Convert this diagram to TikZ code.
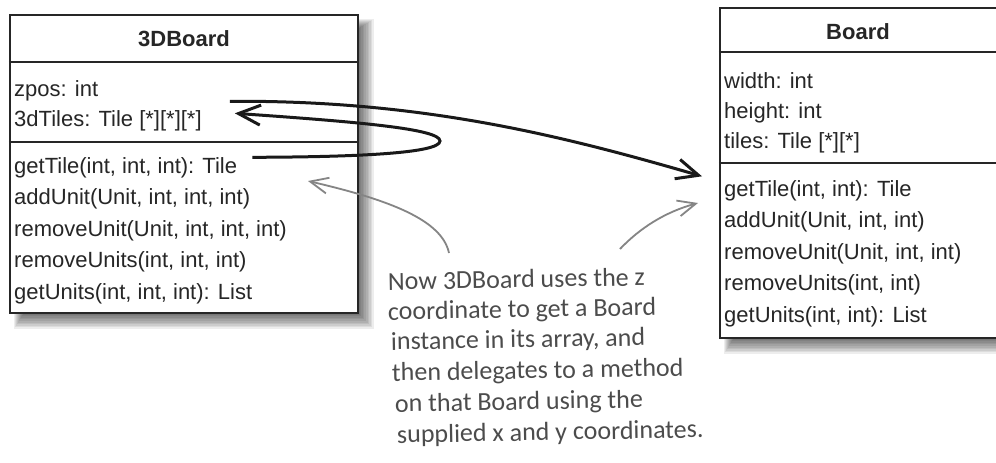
\documentclass[tikz,border=0pt]{standalone}
\usepackage{fontspec}
\setmainfont{Liberation Sans}
\newfontfamily\handfont{Carlito}
\usetikzlibrary{arrows.meta,calc}
\newcommand\boxshadow[4]{%
  \foreach \k in {1,...,10}{%
    \fill[black,opacity=0.07] ({#1+14-\k},{#2+14-\k}) rectangle ({#3+1.6*\k},{#4+1.6*\k});
  }}
\begin{document}
\begin{tikzpicture}[x=1pt,y=-1pt,
  umlbox/.style={draw=black!85, line width=2.5pt, fill=white, inner sep=0pt},
  boxline/.style={draw=black!85, line width=2.5pt},
  member/.style={anchor=base west, inner sep=0pt, font=\fontsize{22}{26}\selectfont, text=black!85},
  classtitle/.style={anchor=base, inner sep=0pt, font=\fontsize{22}{26}\selectfont\bfseries, text=black!85},
  link/.style={line width=3pt, draw=black!90, -{Straight Barb[length=22pt,width=20pt,line width=3pt]}},
  note/.style={line width=1.8pt, draw=black!48, -{Straight Barb[length=18pt,width=16pt,line width=1.8pt]}},
  hand/.style={anchor=base west, inner sep=0pt, rotate=1, font=\handfont\fontsize{26}{30}\selectfont, text=black!70},
]
\useasboundingbox (0,0) rectangle (996,463);
\fill[white] (0,0) rectangle (996,463);

% shadows
\boxshadow{10}{15}{358}{313}
\boxshadow{720}{8}{998}{338}

% 3DBoard class
\node[umlbox, minimum width=348pt, minimum height=298pt] (tdb) at (184,164) {};
\draw[boxline] (tdb.west |- 0,62) -- (tdb.east |- 0,62);
\draw[boxline] (tdb.west |- 0,142) -- (tdb.east |- 0,142);
\node[classtitle] (tdbt) at (184,46) {3DBoard};
\node[member] (a1) at (14,96) {zpos: int};
\node[member] (a2) at (14,126) {3dTiles: Tile [*][*][*]};
\node[member] (o1) at (14,173) {getTile(int, int, int): Tile};
\node[member] (o2) at (14,204.5) {addUnit(Unit, int, int, int)};
\node[member] (o3) at (14,236) {removeUnit(Unit, int, int, int)};
\node[member] (o4) at (14,267.5) {removeUnits(int, int, int)};
\node[member] (o5) at (14,299) {getUnits(int, int, int): List};

% Board class
\node[umlbox, minimum width=278pt, minimum height=330pt] (bd) at (859,173) {};
\draw[boxline] (bd.west |- 0,52) -- (bd.east |- 0,52);
\draw[boxline] (bd.west |- 0,163) -- (bd.east |- 0,163);
\node[classtitle] (bdt) at (858,39.5) {Board};
\node[member] (b1) at (724,88) {width: int};
\node[member] (b2) at (724,118) {height: int};
\node[member] (b3) at (724,148) {tiles: Tile [*][*]};
\node[member] (p1) at (724,196) {getTile(int, int): Tile};
\node[member] (p2) at (724,227.5) {addUnit(Unit, int, int)};
\node[member] (p3) at (724,259) {removeUnit(Unit, int, int)};
\node[member] (p4) at (724,290.5) {removeUnits(int, int)};
\node[member] (p5) at (724,322) {getUnits(int, int): List};

% connectors
\coordinate (s1) at ($(a2.east)+(28,-19)$);
\coordinate (t1) at ($(p1.west)+(-22,-14)$);
\draw[link] (s1) .. controls (420,100) and (560,135) .. (t1);

\coordinate (s2) at ($(o1.east)+(15,-10)$);
\coordinate (turn) at (440,141);
\coordinate (t2) at ($(a2.east)+(33,-7)$);
\draw[link] (s2) .. controls (360,157) and (440,153) .. (turn)
  .. controls (440,129) and (360,122) .. (t2);

% annotation
\node[hand] (h1) at (388,290) {Now 3DBoard uses the z};
\node[hand] (h2) at (388,320) {coordinate to get a Board};
\node[hand] (h3) at (391,350) {instance in its array, and};
\node[hand] (h4) at (392,381) {then delegates to a method};
\node[hand] (h5) at (395,412) {on that Board using the};
\node[hand] (h6) at (397,443) {supplied x and y coordinates.};

\coordinate (n1s) at (449,253);
\coordinate (n1t) at (308,181);
\draw[note] (n1s) .. controls (442,220) and (390,200) .. (n1t);
\coordinate (n2s) at (620,249);
\coordinate (n2t) at (698,203);
\draw[note] (n2s) .. controls (640,228) and (665,212) .. (n2t);
\end{tikzpicture}
\end{document}
